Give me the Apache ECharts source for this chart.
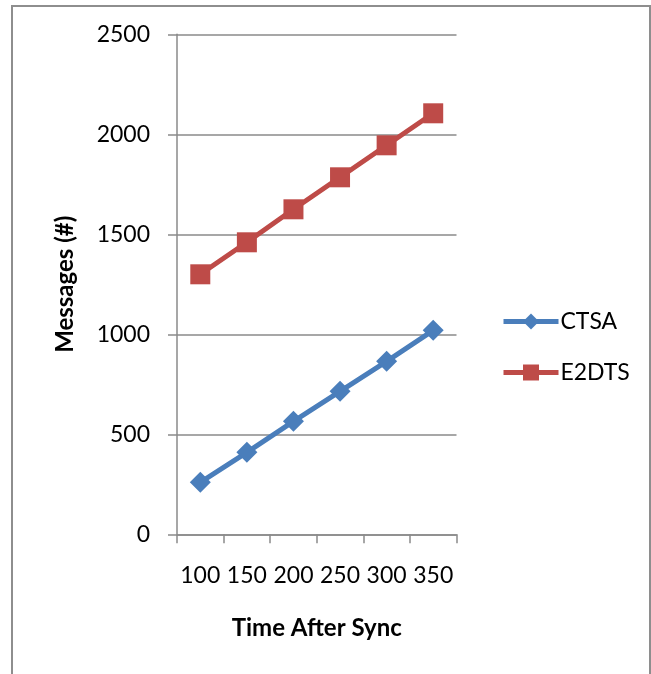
<!DOCTYPE html>
<html>
<head>
<meta charset="utf-8">
<script src="https://cdn.jsdelivr.net/npm/echarts@6/dist/echarts.min.js"></script>
<style>
html,body{margin:0;padding:0;background:#fff;}
#frame{position:absolute;left:11px;top:5px;width:636px;height:700px;border:2px solid #8e8e8e;border-bottom:none;}
#chart{position:absolute;left:0;top:0;width:651px;height:674px;}
</style>
</head>
<body>
<div id="frame"></div>
<div id="chart"></div>
<script>
const categories = ['100','150','200','250','300','350'];
const ctsa = [260, 410, 565, 715, 865, 1020];
const e2dts = [1300, 1460, 1625, 1785, 1945, 2105];
const yTicks = {min: 0, max: 2500, interval: 500};

const FONT = 'Lato';
const gridColor = '#8a8a8a';
const chart = echarts.init(document.getElementById('chart'), null, {renderer: 'canvas'});
chart.setOption({
  animation: false,
  backgroundColor: 'transparent',
  grid: {left: 177, right: 194.5, top: 34.3, bottom: 139.7, containLabel: false},
  legend: {
    orient: 'vertical',
    left: 496,
    top: 305,
    itemWidth: 55,
    itemHeight: 20,
    itemGap: 28,
    lineStyle: {width: 5},
    textStyle: {fontFamily: FONT, fontSize: 23, color: '#000', padding: [0,0,0,-3]},
    data: ['CTSA', 'E2DTS']
  },
  xAxis: {
    type: 'category',
    data: categories,
    boundaryGap: true,
    name: 'Time After Sync',
    nameLocation: 'middle',
    nameGap: 82,
    nameTextStyle: {fontFamily: FONT, fontSize: 24, fontWeight: 'bold', color: '#000'},
    axisLine: {lineStyle: {color: gridColor, width: 1.5}},
    axisTick: {show: true, interval: 0, length: 9, lineStyle: {color: gridColor, width: 1.5}},
    axisLabel: {fontFamily: FONT, fontSize: 23, color: '#000', margin: 30, interval: 0},
    splitLine: {show: false}
  },
  yAxis: {
    type: 'value',
    min: yTicks.min,
    max: yTicks.max,
    interval: yTicks.interval,
    name: 'Messages (#)',
    nameLocation: 'middle',
    nameGap: 100,
    nameRotate: 90,
    nameTextStyle: {fontFamily: FONT, fontSize: 24, fontWeight: 'bold', color: '#000'},
    axisLine: {show: true, lineStyle: {color: gridColor, width: 1.5}},
    axisTick: {show: true, length: 9, lineStyle: {color: gridColor, width: 1.5}},
    axisLabel: {fontFamily: FONT, fontSize: 23, color: '#000', margin: 27, formatter: v => String(v)},
    splitLine: {show: true, lineStyle: {color: gridColor, width: 1.5}}
  },
  series: [
    {
      name: 'CTSA',
      type: 'line',
      data: ctsa,
      symbol: 'diamond',
      symbolSize: 21,
      lineStyle: {color: '#4a7ebb', width: 5},
      itemStyle: {color: '#4a7ebb'}
    },
    {
      name: 'E2DTS',
      type: 'line',
      data: e2dts,
      symbol: 'rect',
      symbolSize: 20,
      lineStyle: {color: '#be4b48', width: 5},
      itemStyle: {color: '#be4b48'}
    }
  ]
});
</script>
</body>
</html>
